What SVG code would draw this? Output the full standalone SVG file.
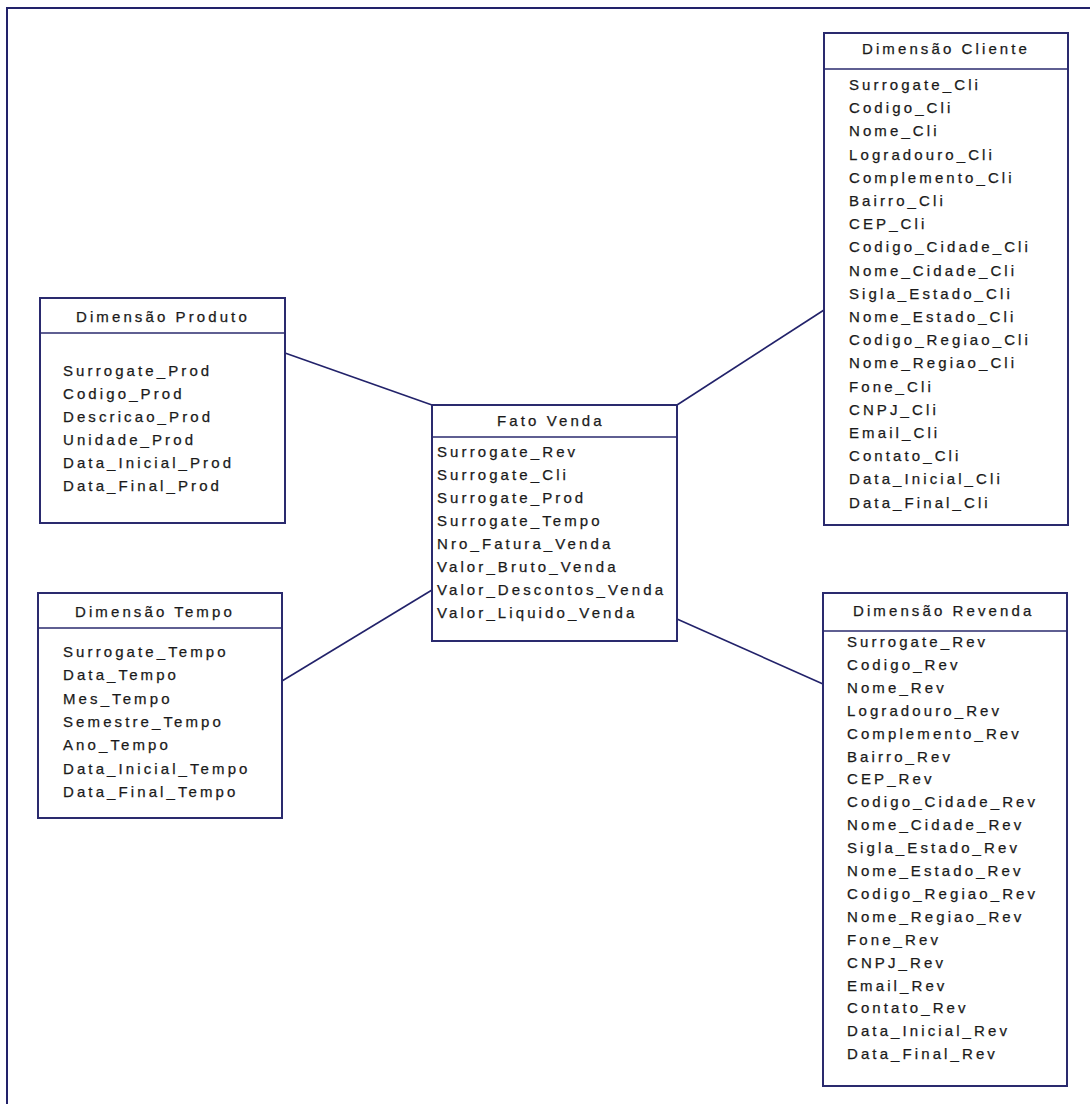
<svg xmlns="http://www.w3.org/2000/svg" width="1090" height="1104" viewBox="0 0 1090 1104">
<style>
.box{fill:#ffffff;stroke:#2a2a6e;stroke-width:2}
.hl{stroke:#2a2a6e;stroke-width:1.6}
.con{stroke:#22226a;stroke-width:1.6;fill:none}
text{font-family:"Liberation Sans",Arial,sans-serif;font-size:15px;letter-spacing:3.1px;fill:#1a1a1a;stroke:#1a1a1a;stroke-width:0.25}
</style>
<rect x="0" y="0" width="1090" height="1104" fill="#ffffff"/>
<path d="M7 1104 V8 H1090" fill="none" stroke="#22226a" stroke-width="2"/>
<g id="connectors">
<line class="con" x1="285" y1="353" x2="432" y2="405"/>
<line class="con" x1="677" y1="405" x2="824" y2="310"/>
<line class="con" x1="282" y1="681" x2="432" y2="590"/>
<line class="con" x1="677" y1="619" x2="823" y2="684"/>
</g>
<g id="dim-produto">
<rect class="box" x="40" y="298" width="245" height="225"/>
<line class="hl" x1="40" y1="333" x2="285" y2="333"/>
<text x="76" y="322">Dimensão Produto</text>
<text x="63" y="376">Surrogate_Prod</text>
<text x="63" y="399">Codigo_Prod</text>
<text x="63" y="422">Descricao_Prod</text>
<text x="63" y="445">Unidade_Prod</text>
<text x="63" y="468">Data_Inicial_Prod</text>
<text x="63" y="491">Data_Final_Prod</text>
</g>
<g id="fato-venda">
<rect class="box" x="432" y="405" width="245" height="236"/>
<line class="hl" x1="432" y1="437" x2="677" y2="437"/>
<text x="497" y="426">Fato Venda</text>
<text x="437" y="457">Surrogate_Rev</text>
<text x="437" y="480">Surrogate_Cli</text>
<text x="437" y="503">Surrogate_Prod</text>
<text x="437" y="526">Surrogate_Tempo</text>
<text x="437" y="549">Nro_Fatura_Venda</text>
<text x="437" y="572">Valor_Bruto_Venda</text>
<text x="437" y="595">Valor_Descontos_Venda</text>
<text x="437" y="618">Valor_Liquido_Venda</text>
</g>
<g id="dim-cliente">
<rect class="box" x="824" y="33" width="244" height="492"/>
<line class="hl" x1="824" y1="69" x2="1068" y2="69"/>
<text x="862" y="54">Dimensão Cliente</text>
<text x="849" y="90">Surrogate_Cli</text>
<text x="849" y="113.2">Codigo_Cli</text>
<text x="849" y="136.4">Nome_Cli</text>
<text x="849" y="159.6">Logradouro_Cli</text>
<text x="849" y="182.8">Complemento_Cli</text>
<text x="849" y="206">Bairro_Cli</text>
<text x="849" y="229.2">CEP_Cli</text>
<text x="849" y="252.4">Codigo_Cidade_Cli</text>
<text x="849" y="275.6">Nome_Cidade_Cli</text>
<text x="849" y="298.8">Sigla_Estado_Cli</text>
<text x="849" y="322">Nome_Estado_Cli</text>
<text x="849" y="345.2">Codigo_Regiao_Cli</text>
<text x="849" y="368.4">Nome_Regiao_Cli</text>
<text x="849" y="391.6">Fone_Cli</text>
<text x="849" y="414.8">CNPJ_Cli</text>
<text x="849" y="438">Email_Cli</text>
<text x="849" y="461.2">Contato_Cli</text>
<text x="849" y="484.4">Data_Inicial_Cli</text>
<text x="849" y="507.6">Data_Final_Cli</text>
</g>
<g id="dim-revenda">
<rect class="box" x="823" y="593" width="244" height="493"/>
<line class="hl" x1="823" y1="631" x2="1067" y2="631"/>
<text x="853" y="616">Dimensão Revenda</text>
<text x="847" y="647">Surrogate_Rev</text>
<text x="847" y="669.9">Codigo_Rev</text>
<text x="847" y="692.8">Nome_Rev</text>
<text x="847" y="715.7">Logradouro_Rev</text>
<text x="847" y="738.6">Complemento_Rev</text>
<text x="847" y="761.5">Bairro_Rev</text>
<text x="847" y="784.4">CEP_Rev</text>
<text x="847" y="807.3">Codigo_Cidade_Rev</text>
<text x="847" y="830.2">Nome_Cidade_Rev</text>
<text x="847" y="853.1">Sigla_Estado_Rev</text>
<text x="847" y="876">Nome_Estado_Rev</text>
<text x="847" y="898.9">Codigo_Regiao_Rev</text>
<text x="847" y="921.8">Nome_Regiao_Rev</text>
<text x="847" y="944.7">Fone_Rev</text>
<text x="847" y="967.6">CNPJ_Rev</text>
<text x="847" y="990.5">Email_Rev</text>
<text x="847" y="1013.4">Contato_Rev</text>
<text x="847" y="1036.3">Data_Inicial_Rev</text>
<text x="847" y="1059.2">Data_Final_Rev</text>
</g>
<g id="dim-tempo">
<rect class="box" x="38" y="593" width="244" height="225"/>
<line class="hl" x1="38" y1="628" x2="282" y2="628"/>
<text x="75" y="617">Dimensão Tempo</text>
<text x="63" y="657">Surrogate_Tempo</text>
<text x="63" y="680.3">Data_Tempo</text>
<text x="63" y="703.6">Mes_Tempo</text>
<text x="63" y="726.9">Semestre_Tempo</text>
<text x="63" y="750.2">Ano_Tempo</text>
<text x="63" y="773.5">Data_Inicial_Tempo</text>
<text x="63" y="796.8">Data_Final_Tempo</text>
</g>
</svg>
